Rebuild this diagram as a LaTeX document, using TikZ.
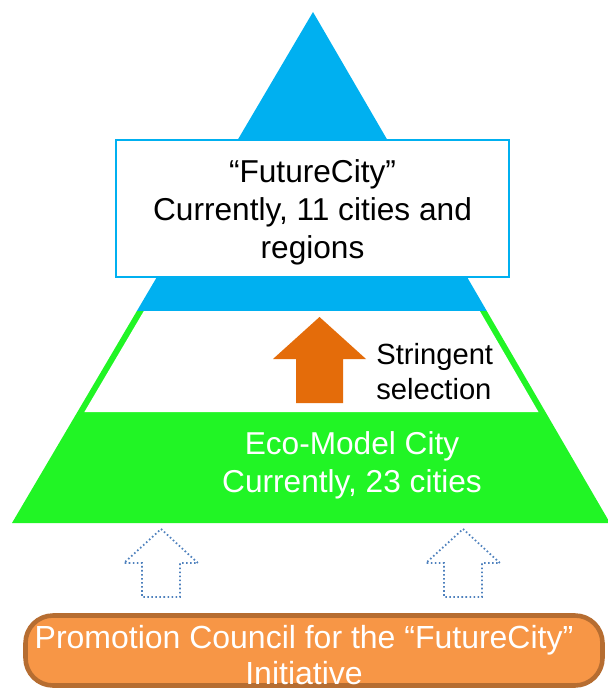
\documentclass[tikz,border=0pt]{standalone}
\usepackage{fontspec}
\setmainfont{Liberation Sans}
\usetikzlibrary{calc}
\definecolor{skyblue}{RGB}{0,176,240}
\definecolor{ecogreen}{RGB}{33,245,37}
\definecolor{selorange}{RGB}{228,108,10}
\definecolor{councilfill}{RGB}{247,150,70}
\definecolor{councilline}{RGB}{182,109,49}
\definecolor{dotblue}{RGB}{79,129,189}
\tikzstyle{citybox} = [rectangle, draw=skyblue, line width=1.2pt, fill=white, minimum width=7.86cm, minimum height=2.74cm, align=center, font=\fontsize{18}{21.6}\selectfont]
\tikzstyle{councilbox} = [rectangle, rounded corners=0.55cm, draw=councilline, line width=2.6pt, fill=councilfill, minimum width=11.54cm, minimum height=1.4cm]
\tikzstyle{whitetext} = [text=white, align=center, inner sep=0pt]

\begin{document}
\begin{tikzpicture}
        \useasboundingbox (0,0) rectangle (12.16,-13.8);

        % pyramid
        \coordinate (apex) at (6.26,-0.24);
        \coordinate (baseL) at (0.24,-10.46);
        \coordinate (baseR) at (12.2,-10.46);
        \coordinate (blueL) at ($(apex)!0.585!(baseL)$);
        \coordinate (blueR) at ($(apex)!0.585!(baseR)$);
        \coordinate (bandL) at ($(apex)!0.783!(baseL)$);
        \coordinate (bandR) at ($(apex)!0.783!(baseR)$);

        \fill[ecogreen] (blueL) -- (blueR) -- (baseR) -- (baseL) -- cycle;
        \fill[white] ($(blueL)+(0.14,0)$) -- ($(blueR)+(-0.14,0)$) -- ($(bandR)+(-0.14,0)$) -- ($(bandL)+(0.14,0)$) -- cycle;
        \fill[skyblue] (apex) -- (blueR) -- (blueL) -- cycle;

        \node (future) [citybox] at (6.25,-4.17) {};
        \node (futureText) [align=center, inner sep=0pt, font=\fontsize{18}{21.6}\selectfont] at (6.25,-4.24) {``FutureCity''\\ Currently, 11 cities and\\ regions};

        % selection arrow
        \fill[selorange] (6.39,-6.34) -- (7.32,-7.18) -- (6.86,-7.18) -- (6.86,-8.06) -- (5.92,-8.06) -- (5.92,-7.18) -- (5.46,-7.18) -- cycle;
        \node (select) [anchor=west, align=left, inner sep=0pt, font=\fontsize{16.6}{19.9}\selectfont] at (7.52,-7.43) {Stringent\\ selection};

        \node (eco) [whitetext, font=\fontsize{18}{21.6}\selectfont] at (7.04,-9.3) {Eco-Model City\\ Currently, 23 cities};

        % support arrows
        \foreach \x in {3.22,9.26} {
            \draw[dotblue, line width=1pt, dash pattern=on 0.9pt off 1.4pt] (\x,-10.58) -- (\x+0.74,-11.26) -- (\x+0.38,-11.26) -- (\x+0.38,-11.94) -- (\x-0.38,-11.94) -- (\x-0.38,-11.26) -- (\x-0.74,-11.26) -- cycle;
        }

        \node (council) [councilbox] at (6.28,-13.01) {};
        \node (councilText) [whitetext, font=\fontsize{18.2}{20.5}\selectfont] at (6.08,-13.1) {Promotion Council for the ``FutureCity''\\ Initiative};

    \end{tikzpicture}
\end{document}
